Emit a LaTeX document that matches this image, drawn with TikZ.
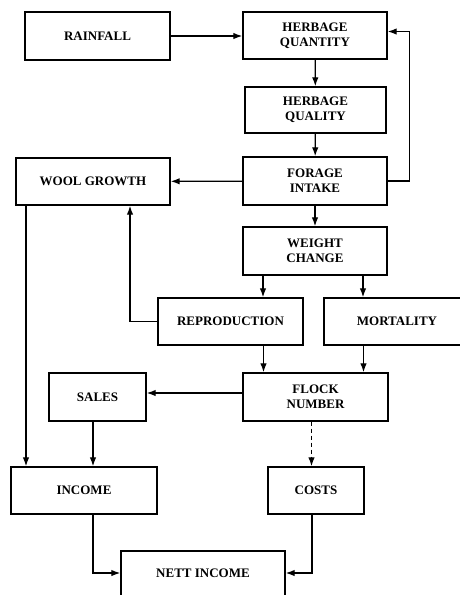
\documentclass[tikz,border=0pt]{standalone}
\usepackage{fontspec}
\setmainfont{Liberation Serif}
\usetikzlibrary{arrows.meta}
\begin{document}
\begin{tikzpicture}[x=1pt,y=-1pt,
  box/.style={draw,line width=1.4pt,align=center,inner sep=0pt,
    font=\bfseries\fontsize{13}{15}\selectfont},
  conn/.style={line width=1.3pt,-{Latex[length=9pt,width=6.5pt]}}]
\useasboundingbox (0,0) rectangle (460,595);
\clip (0,0) rectangle (460,595);
\node[box,minimum width=145pt,minimum height=48pt] (rain) at (97.5,36) {RAINFALL};
\node[box,minimum width=144pt,minimum height=47pt] (hq) at (315,35.5) {HERBAGE\\QUANTITY};
\node[box,minimum width=141pt,minimum height=46pt] (hqual) at (315.5,110) {HERBAGE\\QUALITY};
\node[box,minimum width=144pt,minimum height=48pt] (fi) at (315,181) {FORAGE\\INTAKE};
\node[box,minimum width=154pt,minimum height=47pt] (wg) at (93,181.5) {WOOL GROWTH};
\node[box,minimum width=144pt,minimum height=48pt] (wc) at (315,251) {WEIGHT\\CHANGE};
\node[box,minimum width=145pt,minimum height=47pt] (repro) at (230.5,321.5) {REPRODUCTION};
\node[box,minimum width=146pt,minimum height=47pt] (mort) at (397,321.5) {MORTALITY};
\node[box,minimum width=145pt,minimum height=48pt] (fn) at (315.5,397) {FLOCK\\NUMBER};
\node[box,minimum width=97pt,minimum height=48pt] (sales) at (97.5,397) {SALES};
\node[box,minimum width=146pt,minimum height=47pt] (income) at (84,490.5) {INCOME};
\node[box,minimum width=96pt,minimum height=47pt] (costs) at (316,490.5) {COSTS};
\node[box,minimum width=164pt,minimum height=48pt] (nett) at (203,575) {\raisebox{4pt}{NETT INCOME}};
\draw[conn] (rain) -- (rain -| hq.west);
\draw[conn] (hq) -- (hqual);
\draw[conn] (hqual) -- (fi);
\coordinate (fb) at ([yshift=4pt]hq.east);
\draw[conn] (fi.east) -- ++(22,0) |- (fb);
\draw[conn] (fi) -- (wg);
\draw[conn] (fi) -- (wc);
\draw[conn] ([xshift=-52pt]wc.south) -- ([xshift=-52pt]wc.south |- repro.north);
\draw[conn] ([xshift=48pt]wc.south) -- ([xshift=48pt]wc.south |- mort.north);
\draw[conn] (repro.west) -| ([xshift=37pt]wg.south);
\draw[conn] ([xshift=-52pt]fn.north |- repro.south) -- ([xshift=-52pt]fn.north);
\draw[conn] ([xshift=48pt]fn.north |- mort.south) -- ([xshift=48pt]fn.north);
\draw[conn] ([yshift=4pt]fn.west) -- ([yshift=4pt]fn.west -| sales.east);
\draw[conn,dash pattern=on 4pt off 3pt] ([xshift=-4pt]fn.south) -- ([xshift=-4pt]fn.south |- costs.north);
\draw[conn] ([xshift=-67pt]wg.south) -- ([xshift=-67pt]wg.south |- income.north);
\draw[conn] ([xshift=-4.5pt]sales.south) -- ([xshift=-4.5pt]sales.south |- income.north);
\draw[conn] ([xshift=9pt]income.south) |- ([yshift=2pt]nett.west);
\draw[conn] ([xshift=-4pt]costs.south) |- ([yshift=2pt]nett.east);
\end{tikzpicture}
\end{document}
